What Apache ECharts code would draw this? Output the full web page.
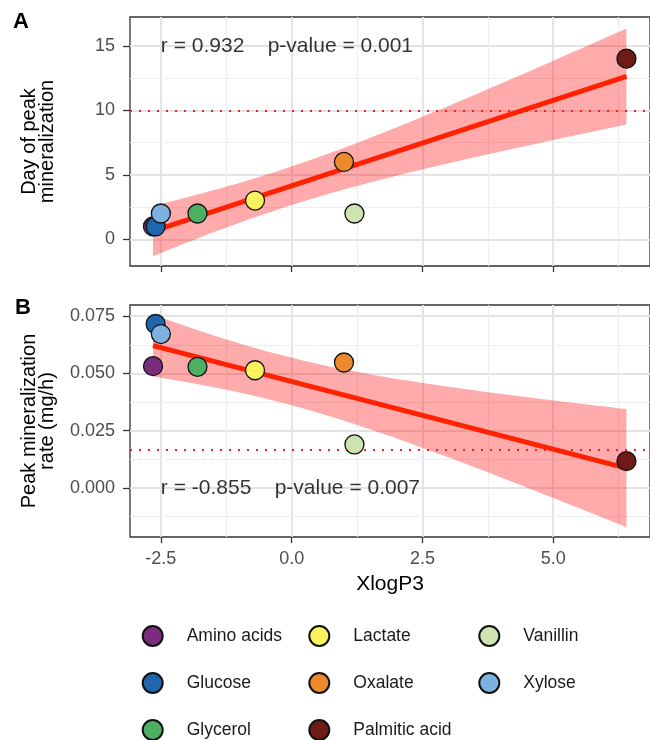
<!DOCTYPE html>
<html>
<head>
<meta charset="utf-8">
<script src="https://cdn.jsdelivr.net/npm/echarts@6/dist/echarts.min.js"></script>
<style>
html, body { margin: 0; padding: 0; background: #fff; }
#main { width: 650px; height: 740px; }
</style>
</head>
<body>
<div id="main"></div>
<script>
// data
var compounds = ['Amino acids', 'Glucose', 'Glycerol', 'Lactate', 'Oxalate', 'Palmitic acid', 'Vanillin', 'Xylose'];
var colors = ['#7B2C7C', '#1F66AE', '#4CAF61', '#FBF35E', '#EE8A2B', '#6D1B14', '#CDE4B0', '#7DB2E0'];
var xlogp = [-2.65, -2.6, -1.8, -0.7, 1.0, 6.4, 1.2, -2.5];
var peakDay = [1, 1, 2, 3, 6, 14, 2, 2];
var peakRate = [0.0532, 0.0716, 0.0529, 0.0514, 0.0548, 0.0117, 0.0190, 0.0672];
var dayThreshold = 10;
var rateThreshold = 0.0165;

var xTicks = [-2.5, 0, 2.5, 5];
var xMinor = [-1.25, 1.25, 3.75, 6.25];
var dayTicks = [0, 5, 10, 15];
var dayMinor = [2.5, 7.5, 12.5];
var rateTicks = [0, 0.025, 0.05, 0.075];
var rateMinor = [-0.0125, 0.0125, 0.0375, 0.0625];

var statsA = 'r = 0.932    p-value = 0.001';
var statsB = 'r = -0.855    p-value = 0.007';
var tCrit = 2.447; // t(0.975, df = 6)

var FONT = '"Liberation Sans", Arial, Helvetica, sans-serif';

/**
 * lm fit + 95% confidence band (same as geom_smooth(method = "lm"))
 */
function fitBand(xs, ys, steps) {
    var n = xs.length, mx = 0, my = 0;
    for (var i = 0; i < n; i++) { mx += xs[i]; my += ys[i]; }
    mx /= n; my /= n;
    var sxx = 0, sxy = 0;
    for (var i = 0; i < n; i++) {
        sxx += (xs[i] - mx) * (xs[i] - mx);
        sxy += (xs[i] - mx) * (ys[i] - my);
    }
    var b = sxy / sxx, a = my - b * mx;
    var sse = 0;
    for (var i = 0; i < n; i++) {
        var r = ys[i] - (a + b * xs[i]);
        sse += r * r;
    }
    var s = Math.sqrt(sse / (n - 2));
    var x0 = Math.min.apply(null, xs), x1 = Math.max.apply(null, xs);
    var band = [];
    for (var k = 0; k <= steps; k++) {
        var x = x0 + (x1 - x0) * k / steps;
        var yh = a + b * x;
        var se = s * Math.sqrt(1 / n + (x - mx) * (x - mx) / sxx);
        band.push([x, yh - tCrit * se, yh + tCrit * se]);
    }
    return { line: [[x0, a + b * x0], [x1, a + b * x1]], band: band };
}

var fitA = fitBand(xlogp, peakDay, 80);
var fitB = fitBand(xlogp, peakRate, 80);

function gridLines(idx, xs, ys, color, width) {
    var d = [];
    xs.forEach(function (v) { d.push({ xAxis: v }); });
    ys.forEach(function (v) { d.push({ yAxis: v }); });
    return {
        type: 'line', xAxisIndex: idx, yAxisIndex: idx, data: [], silent: true,
        markLine: {
            silent: true, z: 0, precision: 6, symbol: ['none', 'none'], label: { show: false },
            lineStyle: { color: color, width: width, type: 'solid' },
            emphasis: { disabled: true },
            data: d
        }
    };
}

function ribbon(idx, band) {
    return {
        type: 'custom', xAxisIndex: idx, yAxisIndex: idx, silent: true, z: 1,
        data: band,
        encode: { x: 0, y: [1, 2] },
        renderItem: function (params, api) {
            if (params.dataIndex !== 0) return;
            var pts = [];
            for (var i = 0; i < band.length; i++) pts.push(api.coord([band[i][0], band[i][2]]));
            for (var i = band.length - 1; i >= 0; i--) pts.push(api.coord([band[i][0], band[i][1]]));
            return { type: 'polygon', shape: { points: pts }, style: { fill: 'rgba(255,0,0,0.33)' } };
        }
    };
}

function fitLine(idx, line, threshold) {
    return {
        type: 'line', xAxisIndex: idx, yAxisIndex: idx, data: line, showSymbol: false, silent: true, z: 3,
        lineStyle: { color: '#FF2200', width: 5 },
        markLine: {
            silent: true, z: 2, precision: 6, symbol: ['none', 'none'], label: { show: false },
            lineStyle: { color: '#EE2222', width: 2, type: [2, 7] },
            emphasis: { disabled: true },
            data: [{ yAxis: threshold }]
        }
    };
}

function statsLabel(idx, x, y, text) {
    return {
        type: 'scatter', xAxisIndex: idx, yAxisIndex: idx, data: [[x, y]], symbolSize: 0, silent: true, z: 5,
        label: { show: true, position: 'right', distance: 0, formatter: text, fontSize: 21, color: '#000', fontFamily: FONT }
    };
}

var series = [
    gridLines(0, xTicks, dayTicks, '#E3E3E3', 1.8),
    gridLines(0, xMinor, dayMinor, '#EEEEEE', 1.2),
    gridLines(1, xTicks, rateTicks, '#E3E3E3', 1.8),
    gridLines(1, xMinor, rateMinor, '#EEEEEE', 1.2),
    ribbon(0, fitA.band),
    ribbon(1, fitB.band),
    fitLine(0, fitA.line, dayThreshold),
    fitLine(1, fitB.line, rateThreshold),
    statsLabel(0, -2.5, 15, statsA),
    statsLabel(1, -2.5, 0, statsB)
];

compounds.forEach(function (name, i) {
    [peakDay, peakRate].forEach(function (ys, p) {
        series.push({
            name: name, type: 'scatter', xAxisIndex: p, yAxisIndex: p, z: 4,
            symbol: 'circle', symbolSize: 19,
            itemStyle: { color: colors[i], borderColor: '#111', borderWidth: 1.3, opacity: 1 },
            data: [[xlogp[i], ys[i]]]
        });
    });
});

function xAxis(idx, showLabels) {
    return {
        type: 'value', gridIndex: idx, min: -3.09, max: 6.85,
        axisLine: { show: false, onZero: false },
        axisTick: { show: true, length: 6, customValues: xTicks, lineStyle: { color: '#333', width: 1.3 } },
        axisLabel: {
            show: showLabels, customValues: xTicks, margin: 13, fontSize: 18, lineHeight: 18,
            color: '#4D4D4D', fontFamily: FONT,
            formatter: function (v) { return v.toFixed(1); }
        },
        splitLine: { show: false },
        name: showLabels ? 'XlogP3' : '', nameLocation: 'middle', nameGap: 37,
        nameTextStyle: { fontSize: 21, color: '#000', fontFamily: FONT }
    };
}

function yAxis(idx, min, max, ticks, digits, title) {
    return {
        type: 'value', gridIndex: idx, min: min, max: max,
        axisLine: { show: false, onZero: false },
        axisTick: { show: true, length: 7, customValues: ticks, lineStyle: { color: '#333', width: 1.3 } },
        axisLabel: {
            customValues: ticks, margin: 15, fontSize: 18, color: '#4D4D4D', fontFamily: FONT,
            formatter: function (v) { return v.toFixed(digits); }
        },
        splitLine: { show: false },
        name: title, nameLocation: 'middle', nameGap: 73, nameRotate: 90,
        nameTextStyle: { fontSize: 20, lineHeight: 18.5, color: '#000', fontFamily: FONT, align: 'center' }
    };
}

function legendCol(left, names) {
    return {
        orient: 'vertical', left: left, top: 625, height: 140, padding: 0,
        itemWidth: 20, itemHeight: 20, itemGap: 25,
        selectedMode: false, data: names,
        textStyle: { fontSize: 17.5, lineHeight: 20, color: '#1A1A1A', fontFamily: FONT, padding: [0, 0, 0, 19] }
    };
}

var option = {
    animation: false,
    backgroundColor: '#fff',
    grid: [
        { left: 130, right: -11, top: 17, bottom: 474, show: true, borderColor: '#333', borderWidth: 1.3, backgroundColor: 'transparent' },
        { left: 130, right: -11, top: 305, bottom: 203, show: true, borderColor: '#333', borderWidth: 1.3, backgroundColor: 'transparent' }
    ],
    xAxis: [xAxis(0, false), xAxis(1, true)],
    yAxis: [
        yAxis(0, -2.07, 17.23, dayTicks, 0, 'Day of peak\nmineralization'),
        yAxis(1, -0.0214, 0.0799, rateTicks, 3, 'Peak mineralization\nrate (mg/h)')
    ],
    legend: [
        legendCol(141.7, compounds.slice(0, 3)),
        legendCol(308.3, compounds.slice(3, 6)),
        legendCol(478.3, compounds.slice(6))
    ],
    graphic: [
        { type: 'text', left: 13, top: 11, style: { text: 'A', font: 'bold 22px ' + FONT, fill: '#000' } },
        { type: 'text', left: 15, top: 297, style: { text: 'B', font: 'bold 22px ' + FONT, fill: '#000' } }
    ],
    series: series
};

var chart = echarts.init(document.getElementById('main'), null, { renderer: 'canvas' });
chart.setOption(option);
</script>
</body>
</html>
